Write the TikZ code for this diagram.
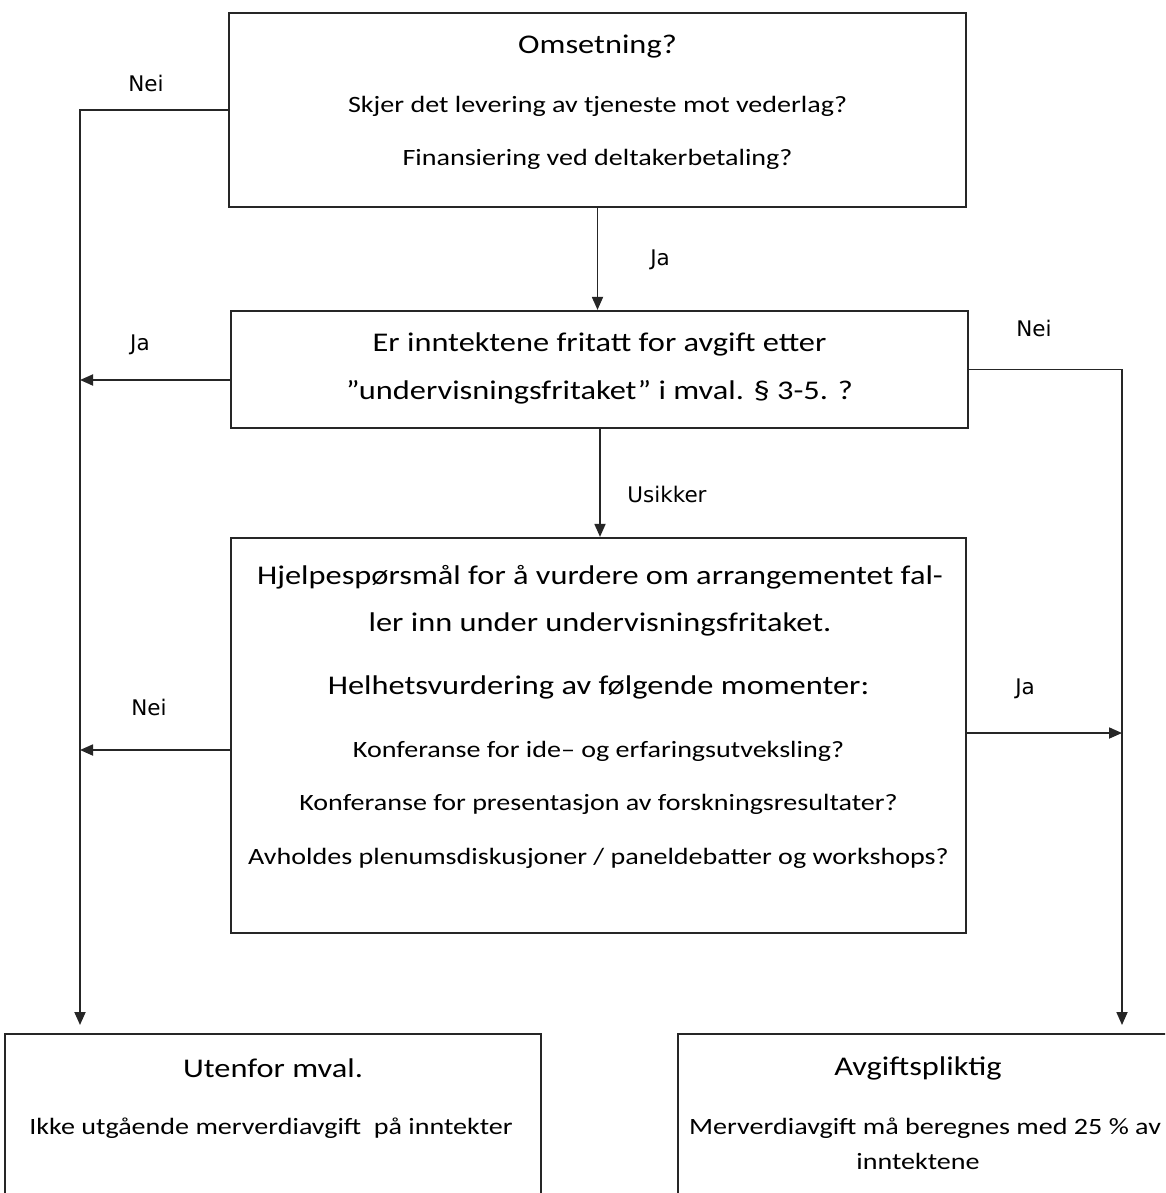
\documentclass[tikz,border=0pt]{standalone}
\usepackage{fontspec}
\setmainfont{Carlito}[FakeStretch=1.2]
\newfontfamily\lblfont{DejaVu Sans}
\usetikzlibrary{arrows.meta}
\newcommand{\BigTxt}{\fontsize{27}{32}\selectfont}
\newcommand{\SmTxt}{\fontsize{23.4}{28}\selectfont}
\tikzset{
  box/.style={draw=black!85, line width=2.2pt, rectangle, inner sep=0pt},
  txt/.style={inner sep=0pt, anchor=base, text=black},
  lbl/.style={inner sep=0pt, anchor=center, font=\lblfont\fontsize{21.5}{26}\selectfont},
  conn/.style={draw=black!85, line width=1.8pt},
  arr/.style={conn, -{Triangle[length=13pt,width=11pt]}}
}
\begin{document}
\begin{tikzpicture}[x=1pt,y=-1pt]
\clip (0,0) rectangle (1165,1193);
\fill[white] (0,0) rectangle (1165,1193);
% boxes
\node[box, minimum width=737pt, minimum height=194pt] (top) at (597.5,110) {};
\node[box, minimum width=737pt, minimum height=117pt] (b2) at (599.5,369.5) {};
\node[box, minimum width=735pt, minimum height=395pt] (b3) at (598.5,735.5) {};
\node[box, minimum width=536pt, minimum height=216pt] (bl) at (273,1142) {};
\node[box, minimum width=520pt, minimum height=216pt] (br) at (938,1142) {};
% texts top
\node[txt] (t1) at (597.5,54) {\BigTxt Omsetning?};
\node[txt] (t2) at (597.5,113) {\SmTxt Skjer det levering av tjeneste mot vederlag?};
\node[txt] (t3) at (597.5,166) {\SmTxt Finansiering ved deltakerbetaling?};
% texts b2
\node[txt] (u1) at (599.5,351) {\BigTxt Er inntektene fritatt for avgift etter};
\node[txt] (u2) at (599.5,399) {\BigTxt ”undervisningsfritaket” i mval. § 3-5. ?};
% texts b3
\node[txt] (h1) at (600,584) {\BigTxt Hjelpespørsmål for å vurdere om arrangementet fal-};
\node[txt] (h2) at (600,631) {\BigTxt ler inn under undervisningsfritaket.};
\node[txt] (h3) at (598.5,694) {\BigTxt Helhetsvurdering av følgende momenter:};
\node[txt] (h4) at (598.5,757) {\SmTxt Konferanse for ide– og erfaringsutveksling?};
\node[txt] (h5) at (598.5,810) {\SmTxt Konferanse for presentasjon av forskningsresultater?};
\node[txt] (h6) at (598.5,864) {\SmTxt Avholdes plenumsdiskusjoner / paneldebatter og workshops?};
% bottom texts
\node[txt] (l1) at (273,1077) {\BigTxt Utenfor mval.};
\node[txt] (l2) at (271,1134) {\SmTxt Ikke utgående merverdiavgift\ \ på inntekter};
\node[txt] (r1) at (918,1075) {\BigTxt Avgiftspliktig};
\node[txt] (r2) at (925,1134) {\SmTxt Merverdiavgift må beregnes med 25 \% av};
\node[txt] (r3) at (918,1169) {\SmTxt inntektene};
% free ends
\coordinate (lcol) at (80,0);
\coordinate (rcol) at (1122,0);
\coordinate (lend) at (80,1025);
\coordinate (rend) at (1122,1025);
% connectors
\draw[arr] (top.west) -| (lend);
\draw[arr] (top.south) -- (top.south |- b2.north);
\draw[arr] ([yshift=-10.5pt]b2.west) -- ([yshift=-10.5pt]b2.west -| lcol);
\draw[arr] (b2.east) -| (rend);
\draw[arr] ([xshift=0.5pt]b2.south) -- ([xshift=0.5pt]b2.south |- b3.north);
\draw[arr] ([yshift=-14.5pt]b3.west) -- ([yshift=-14.5pt]b3.west -| lcol);
\draw[arr] ([yshift=2.5pt]b3.east) -- ([yshift=2.5pt]b3.east -| rcol);
% labels
\node[lbl] (n1) at (146,83) {Nei};
\node[lbl] (j1) at (660,260) {Ja};
\node[lbl] (j2) at (140,345) {Ja};
\node[lbl] (n2) at (1034,328) {Nei};
\node[lbl] (us) at (667,494) {Usikker};
\node[lbl] (n3) at (149,707) {Nei};
\node[lbl] (j3) at (1025,689) {Ja};
\end{tikzpicture}
\end{document}
